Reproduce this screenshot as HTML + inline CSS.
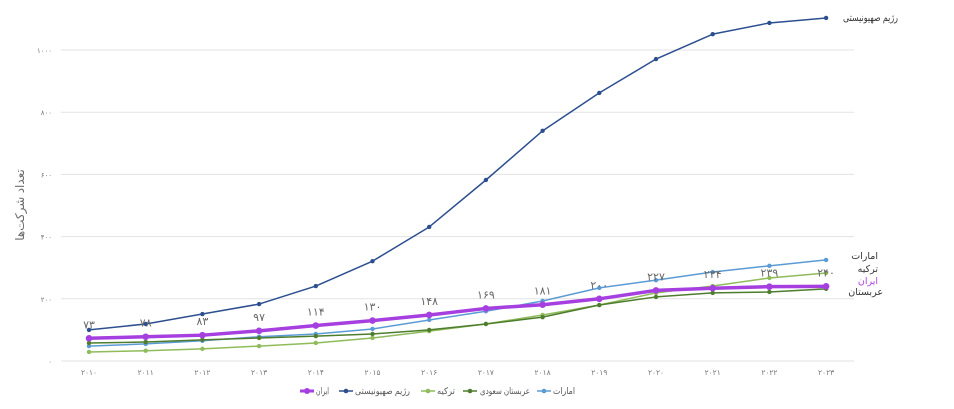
<!DOCTYPE html>
<html><head><meta charset="utf-8"><style>
body{margin:0;background:#fff;}
svg{display:block;font-family:"Liberation Sans","DejaVu Sans",sans-serif;}
</style></head><body>
<svg id="c" width="954" height="409" xmlns="http://www.w3.org/2000/svg">
<g id="grid"></g><g id="series"></g><g id="labels"></g>
<text transform="translate(24,205) rotate(-90)" text-anchor="middle" font-size="12" fill="#6b6b6b">تعداد شرکت‌ها</text>
<text x="843" y="21" font-size="10" fill="#333" textLength="55" lengthAdjust="spacingAndGlyphs">رژیم صهیونیستی</text>
<text x="878" y="259" text-anchor="end" font-size="9.5" fill="#333">امارات</text>
<text x="878" y="272" text-anchor="end" font-size="9.5" fill="#333">ترکیه</text>
<text x="878" y="284" text-anchor="end" font-size="9.5" fill="#b040e0">ایران</text>
<text x="883" y="295" text-anchor="end" font-size="9.5" fill="#333">عربستان</text>
<g font-size="9" fill="#555">
<line x1="300" y1="391" x2="314" y2="391" stroke="#a63fe0" stroke-width="3"/><circle cx="307" cy="391" r="3" fill="#a63fe0"/><text x="316" y="394" textLength="13" lengthAdjust="spacingAndGlyphs">ایران</text>
<line x1="339" y1="391" x2="353" y2="391" stroke="#2d4f8f" stroke-width="1.5"/><circle cx="346" cy="391" r="2.3" fill="#2d4f8f"/><text x="355" y="394" textLength="55" lengthAdjust="spacingAndGlyphs">رژیم صهیونیستی</text>
<line x1="421" y1="391" x2="435" y2="391" stroke="#8fbb5a" stroke-width="1.5"/><circle cx="428" cy="391" r="2.3" fill="#8fbb5a"/><text x="437" y="394" textLength="18" lengthAdjust="spacingAndGlyphs">ترکیه</text>
<line x1="463" y1="391" x2="477" y2="391" stroke="#4e7d2e" stroke-width="1.5"/><circle cx="470" cy="391" r="2.3" fill="#4e7d2e"/><text x="480" y="394" textLength="50" lengthAdjust="spacingAndGlyphs">عربستان سعودی</text>
<line x1="537" y1="391" x2="551" y2="391" stroke="#5b9bd5" stroke-width="1.5"/><circle cx="544" cy="391" r="2.3" fill="#5b9bd5"/><text x="553" y="394" textLength="22" lengthAdjust="spacingAndGlyphs">امارات</text>
</g>
</svg>
<script>
var NS="http://www.w3.org/2000/svg";
function el(p,t,a,txt){var e=document.createElementNS(NS,t);for(var k in a)e.setAttribute(k,a[k]);if(txt!==undefined)e.textContent=txt;document.getElementById(p).appendChild(e);return e;}
function Y(v){return 361-0.311*v;}
function X(i){return 89+i*56.7;}
var fa=function(n){return String(n).replace(/\d/g,function(d){return "۰۱۲۳۴۵۶۷۸۹"[d];});};
[0,200,400,600,800,1000].forEach(function(v){
 el("grid","line",{x1:61,x2:854,y1:Y(v),y2:Y(v),stroke:"#e3e3e3","stroke-width":1});
 el("grid","text",{x:52,y:Y(v)+3,"text-anchor":"end","font-size":7,fill:"#777"},fa(v));
});
for(var i=0;i<14;i++)el("grid","text",{x:X(i),y:375,"text-anchor":"middle","font-size":7.5,fill:"#777"},fa(2010+i));
var S=[
 {c:"#5b9bd5",w:1.5,r:2.2,d:[48,55,65,78,87,103,132,160,193,235,260,286,306,325]},
 {c:"#8fbb5a",w:1.5,r:2.2,d:[29,33,39,48,58,74,96,119,148,180,219,241,267,283]},
 {c:"#4e7d2e",w:1.5,r:2.2,d:[58,61,68,74,80,87,100,119,141,180,206,219,222,232]},
 {c:"#2d4f8f",w:1.5,r:2.2,d:[100,119,151,183,241,321,431,582,740,862,971,1051,1087,1103]},
 {c:"#a63fe0",w:3.5,r:3.3,d:[73,78,83,97,114,130,148,169,181,200,227,234,239,240]}
];
S.forEach(function(s){
 var pts=s.d.map(function(v,i){return X(i)+","+Y(v);}).join(" ");
 el("series","polyline",{points:pts,fill:"none",stroke:s.c,"stroke-width":s.w,"stroke-linejoin":"round"});
 s.d.forEach(function(v,i){el("series","circle",{cx:X(i),cy:Y(v),r:s.r,fill:s.c});});
});
S[4].d.forEach(function(v,i){el("labels","text",{x:X(i),y:Y(v)-10,"text-anchor":"middle","font-size":11,fill:"#666"},fa(v));});
</script>
</body></html>
